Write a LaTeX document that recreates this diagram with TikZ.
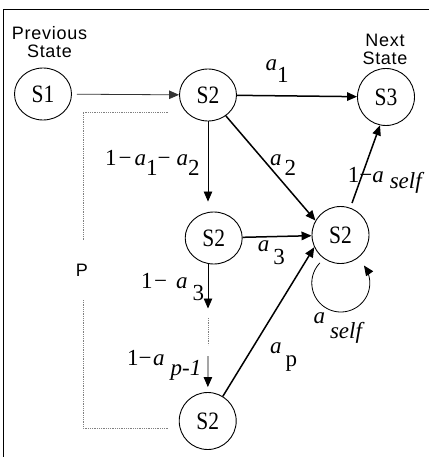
\documentclass[tikz,border=0pt]{standalone}
\usepackage{graphicx}
\usepackage{fontspec}
\setmainfont{Liberation Serif}
\newfontfamily\headfont{Liberation Sans}[LetterSpace=4]
\newfontfamily\pfont{Liberation Sans}
\usetikzlibrary{arrows.meta,shapes.geometric}

% a with a lowered index: kern, drop, index
\newcommand\asub[3]{\textit{a}\kern#1pt\raisebox{-#2pt}{#3}}
% narrow state name
\newcommand\stname[1]{\scalebox{0.86}[1]{#1}}

\begin{document}
\begin{tikzpicture}[x=1pt,y=-1pt,
  stnode/.style={draw, circle, minimum size=57pt, inner sep=0pt, line width=0.9pt,
    font=\fontsize{25}{25}\selectfont},
  squat/.style={ellipse, minimum width=57pt, minimum height=52pt},
  tri/.style={-{Triangle[length=10pt,width=8.5pt]}},
  heavy/.style={tri, line width=1.5pt},
  light/.style={tri, line width=0.8pt},
  dotline/.style={draw=gray, line width=0.7pt, dash pattern=on 0.7pt off 1.1pt},
  lbl/.style={anchor=base west, inner sep=0pt, font=\fontsize{23}{23}\selectfont},
  head/.style={anchor=base, inner sep=0pt, font=\headfont\fontsize{18}{18}\selectfont},
  ]
\useasboundingbox (0,0) rectangle (429,457);

% frame (top and left edges)
\draw[line width=1.6pt] (429,9.5) -- (3.5,9.5) -- (3.5,457);

% states
\node[stnode,squat] (s1)  at (43,94)      {\stname{S1}};
\node[stnode,squat] (s2a) at (208,95)     {\stname{S2}};
\node[stnode]       (s3)  at (386,97)     {\stname{S3}};
\node[stnode]       (s2r) at (340.5,235)  {\stname{S2}};
\node[stnode,squat] (s2m) at (213.7,238)  {\stname{S2}};
\node[stnode]       (s2b) at (207.7,421)  {\stname{S2}};

% headings
\node[head] (prev1) at (49.5,40) {Previous};
\node[head] (prev2) at (49.5,58) {State};
\node[head] (next1) at (385,47)  {Next};
\node[head] (next2) at (385,65)  {State};

% transitions
\draw[light, draw=black!80, shorten <=5pt] (s1) -- (s2a);
\draw[heavy] (s2a) -- (s3);
\draw[heavy] (s2a) -- (s2r.150);
\draw[heavy] (s2m) -- (s2r);
\draw[heavy] (s2b) -- (s2r.205);
\draw[heavy, shorten <=5pt] (s2r) -- (s3.258);

% chain of intermediate states
\draw[light, shorten >=10pt] (s2a.south) -- (s2a.south |- s2m.north);
\coordinate (m1) at (208,308.5);
\coordinate (m2) at (208,318);
\coordinate (m3) at (208,345);
\coordinate (m4) at (208,356);
\draw[light] (s2m.south -| m1) -- (m1);
\draw[dotline] (m2) -- (m3);
\draw[light, shorten >=5pt] (m4) -- (s2b);

% self loop
\draw[light] plot[domain=224:-37, samples=60]
  ({340.8+29*cos(\x)}, {283+29*sin(\x)});

% bracket around the chain
\coordinate (b1) at (168,112);
\coordinate (b2) at (83,240);
\coordinate (b3) at (83,300);
\coordinate (b4) at (168,428);
\draw[dotline] (b1) -| (b2);
\draw[dotline] (b3) |- (b4);
\node[inner sep=0pt, font=\pfont\fontsize{18}{18}\selectfont] (pl) at (82,270) {P};

% transition labels
\node[lbl] (la1) at (265.5,71)    {\asub{0}{12}{1}};
\node[lbl] (la2) at (270,165)     {\asub{3}{10}{2}};
\node[lbl] (la3) at (257.7,251.7) {\asub{4}{13}{3}};
\node[lbl] (lap) at (270,353)     {\asub{4}{13}{p}};
\node[lbl] (ls1) at (347.6,182.7) {1−\textit{a}\kern6pt\raisebox{-6pt}{\textit{self}}};
\node[lbl] (ls2) at (313.3,323)   {\asub{5}{15}{\textit{self}}};
\node[lbl] (l12) at (105,165)     {1\kern2pt−\kern3pt\textit{a}\raisebox{-10pt}{1}−\kern6pt\textit{a}\raisebox{-10pt}{2}};
\node[lbl] (l3)  at (141,288)     {1\kern1.5pt−\kern9pt\textit{a}\kern5pt\raisebox{-12pt}{3}};
\node[lbl] (lp1) at (127,365)     {1−\kern1.5pt\textit{a}\kern6pt\raisebox{-10pt}{\textit{p-1}}};
\end{tikzpicture}
\end{document}
